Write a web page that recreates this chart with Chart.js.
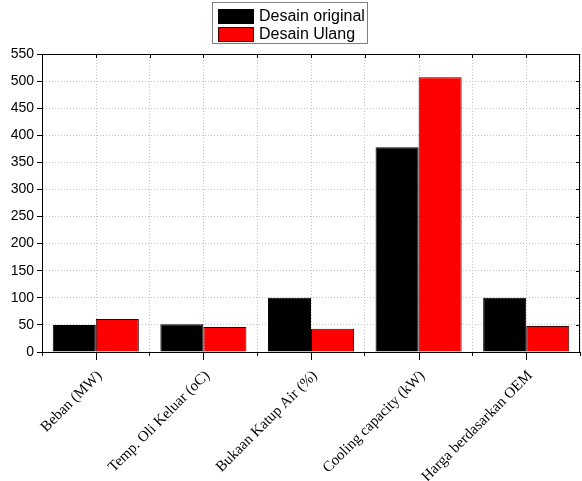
<!DOCTYPE html>
<html>
<head>
<meta charset="utf-8">
<script src="https://cdn.jsdelivr.net/npm/chart.js@4/dist/chart.umd.min.js"></script>
<style>
  html, body { margin: 0; padding: 0; background: #fff; }
  #wrap { width: 582px; height: 481px; }
</style>
</head>
<body>
<div id="wrap"><canvas id="chart"></canvas></div>
<script>
// datos
const categories = [
  "Beban (MW)",
  "Temp. Oli Keluar (oC)",
  "Bukaan Katup Air (%)",
  "Cooling capacity (kW)",
  "Harga berdasarkan OEM"
];
const desainOriginal = [50, 51, 100, 378, 100];
const desainUlang = [61, 46, 43, 507, 48];
const yLabelStep = 50;

// marco, ticks internos, lineas de centro y leyenda en caja
const framePlugin = {
  id: "frame",
  beforeDatasetsDraw(chart) {
    const { ctx, chartArea: a, scales: { x } } = chart;
    ctx.save();
    ctx.strokeStyle = "#c4c4c4";
    ctx.lineWidth = 1;
    ctx.setLineDash([1, 2]);
    categories.forEach((c, i) => {
      const px = Math.round(x.getPixelForValue(i)) + 0.5;
      ctx.beginPath();
      ctx.moveTo(px, a.top);
      ctx.lineTo(px, a.bottom);
      ctx.stroke();
    });
    ctx.restore();
  },
  afterDraw(chart) {
    const { ctx, chartArea: a, scales: { x, y } } = chart;
    ctx.save();
    ctx.strokeStyle = "#000";
    ctx.lineWidth = 1;
    ctx.strokeRect(Math.round(a.left) + 0.5, Math.round(a.top) + 0.5,
      Math.round(a.right - a.left) - 1, Math.round(a.bottom - a.top));

    // ticks derecho
    for (let v = 0; v <= 550; v += yLabelStep) {
      const py = Math.round(y.getPixelForValue(v)) + 0.5;
      ctx.beginPath();
      ctx.moveTo(a.right, py);
      ctx.lineTo(a.right - 4, py);
      ctx.stroke();
    }
    // ticks arriba y centros abajo
    const half = (x.getPixelForValue(1) - x.getPixelForValue(0)) / 2;
    categories.forEach((c, i) => {
      const cx = Math.round(x.getPixelForValue(i)) + 0.5;
      [cx, Math.round(x.getPixelForValue(i) - half) + 0.5].forEach(px => {
        ctx.beginPath();
        ctx.moveTo(px, a.top);
        ctx.lineTo(px, a.top + 4);
        ctx.stroke();
      });
      ctx.beginPath();
      ctx.moveTo(cx, a.bottom);
      ctx.lineTo(cx, a.bottom + 8);
      ctx.stroke();
    });

    // leyenda
    ctx.strokeStyle = "#808080";
    ctx.strokeRect(212.5, 2.5, 155, 41);
    ctx.font = "16px 'Liberation Sans', Arial, sans-serif";
    ctx.textBaseline = "middle";
    chart.data.datasets.forEach((ds, i) => {
      const top = 9 + i * 18;
      ctx.fillStyle = ds.backgroundColor;
      ctx.fillRect(218, top, 36, 15);
      ctx.strokeStyle = ds.borderColor;
      ctx.strokeRect(218.5, top + 0.5, 35, 14);
      ctx.fillStyle = "#000";
      ctx.fillText(ds.label, 259, top + 8);
    });
    ctx.restore();
  }
};

const ctx = document.getElementById("chart").getContext("2d");
const chart = new Chart(ctx, {
  type: "bar",
  data: {
    labels: categories,
    datasets: [
      {
        label: "Desain original",
        data: desainOriginal,
        backgroundColor: "#000000",
        borderColor: "#000000",
        borderWidth: 1,
        categoryPercentage: 0.8,
        barPercentage: 1.0
      },
      {
        label: "Desain Ulang",
        data: desainUlang,
        backgroundColor: "#ff0000",
        borderColor: "#3a0000",
        borderWidth: 1,
        categoryPercentage: 0.8,
        barPercentage: 1.0
      }
    ]
  },
  options: {
    responsive: true,
    maintainAspectRatio: false,
    animation: false,
    layout: { padding: { top: 54, right: 2, left: 0, bottom: 0 } },
    plugins: {
      legend: { display: false },
      tooltip: { enabled: false }
    },
    scales: {
      x: {
        offset: true,
        grid: { offset: true, color: "#c4c4c4", tickColor: "#000", tickLength: 4 },
        border: { color: "#000", dash: [1, 2] },
        ticks: {
          color: "#000",
          font: { family: "'Liberation Serif', 'Times New Roman', serif", size: 15 },
          minRotation: 45,
          maxRotation: 45,
          autoSkip: false,
          padding: 11,
          labelOffset: 4
        },
        afterFit(s) { s.height = 129; }
      },
      y: {
        min: 0,
        max: 550,
        grid: { color: "#c4c4c4", tickColor: "#000", tickLength: 5 },
        border: { color: "#000", dash: [1, 2] },
        ticks: {
          stepSize: 25,
          color: "#000",
          font: { family: "'Liberation Sans', Arial, sans-serif", size: 14 },
          padding: 3,
          callback: v => (v % yLabelStep === 0 ? v : "")
        },
        afterFit(s) { s.width = 42; }
      }
    }
  },
  plugins: [framePlugin]
});
</script>
</body>
</html>
